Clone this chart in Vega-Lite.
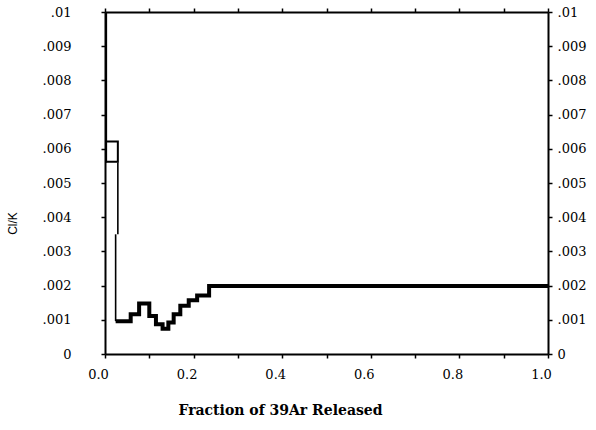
{
  "$schema": "https://vega.github.io/schema/vega-lite/v6.json",
  "autosize": {"type": "none"},
  "padding": {"left": 105, "top": 12, "right": 48, "bottom": 76},
  "width": 443,
  "height": 342,
  "background": "white",
  "config": {
    "font": "DejaVu Serif",
    "view": {"stroke": null},
    "axis": {
      "domainColor": "black",
      "domainWidth": 2,
      "tickColor": "black",
      "tickWidth": 1.5,
      "tickSize": 4,
      "grid": false,
      "labelColor": "black",
      "labelFont": "DejaVu Serif",
      "labelFontSize": 13,
      "titleColor": "black"
    }
  },
  "datasets": {
    "box": [{"start": 0, "end": 0.029, "lo": 0.00562, "hi": 0.00621}],
    "drops": [
      {"frac": 0.003, "from": 0.0056, "to": 0.0100},
      {"frac": 0.029, "from": 0.0035, "to": 0.0056},
      {"frac": 0.024, "from": 0.00096, "to": 0.0035}
    ],
    "steps": [
      {"frac": 0.024, "clk": 0.00096},
      {"frac": 0.058, "clk": 0.00116},
      {"frac": 0.077, "clk": 0.00148},
      {"frac": 0.100, "clk": 0.00111},
      {"frac": 0.115, "clk": 0.00087},
      {"frac": 0.130, "clk": 0.00074},
      {"frac": 0.143, "clk": 0.00092},
      {"frac": 0.155, "clk": 0.00116},
      {"frac": 0.170, "clk": 0.00141},
      {"frac": 0.189, "clk": 0.00157},
      {"frac": 0.208, "clk": 0.00171},
      {"frac": 0.235, "clk": 0.00199},
      {"frac": 1.0, "clk": 0.00199}
    ]
  },
  "layer": [
    {
      "data": {"name": "box"},
      "mark": {"type": "rect", "fill": "white", "stroke": "black", "strokeWidth": 2, "clip": true},
      "encoding": {
        "x": {"field": "start", "type": "quantitative",
          "scale": {"domain": [0, 1], "nice": false, "zero": false},
          "axis": {"orient": "top", "values": [0, 0.1, 0.2, 0.3, 0.4, 0.5, 0.6, 0.7, 0.8, 0.9, 1.0], "labels": false, "title": null}},
        "x2": {"field": "end"},
        "y": {"field": "lo", "type": "quantitative",
          "scale": {"domain": [0, 0.01], "nice": false},
          "axis": {"orient": "right", "values": [0, 0.001, 0.002, 0.003, 0.004, 0.005, 0.006, 0.007, 0.008, 0.009, 0.01],
            "labelExpr": "replace(format(datum.value, '.3~f'), '0.', '.')",
            "labelFlush": false,
            "labelPadding": 5, "title": null}},
        "y2": {"field": "hi"}
      }
    },
    {
      "data": {"name": "drops"},
      "mark": {"type": "rule", "color": "black", "strokeWidth": 1.6, "clip": true},
      "encoding": {
        "x": {"field": "frac", "type": "quantitative", "scale": {"domain": [0, 1], "nice": false}, "axis": null},
        "y": {"field": "from", "type": "quantitative", "scale": {"domain": [0, 0.01], "nice": false}, "axis": null},
        "y2": {"field": "to"}
      }
    },
    {
      "data": {"name": "steps"},
      "mark": {"type": "line", "interpolate": "step-after", "color": "black", "strokeWidth": 4, "clip": true},
      "encoding": {
        "x": {"field": "frac", "type": "quantitative",
          "scale": {"domain": [0, 1], "nice": false},
          "axis": {"orient": "bottom", "values": [0, 0.1, 0.2, 0.3, 0.4, 0.5, 0.6, 0.7, 0.8, 0.9, 1.0],
            "labelExpr": "round(datum.value * 10) % 2 == 0 ? format(datum.value, '.1f') : ''",
            "labelFlush": false,
            "labelPadding": 10, "labelOffset": -7,
            "title": "Fraction of 39Ar Released",
            "titleFont": "DejaVu Serif", "titleFontSize": 14, "titleFontWeight": "bold",
            "titleX": 175, "titleY": 56, "titleBaseline": "middle", "titleAlign": "center"}},
        "y": {"field": "clk", "type": "quantitative",
          "scale": {"domain": [0, 0.01], "nice": false},
          "axis": {"orient": "left", "values": [0, 0.001, 0.002, 0.003, 0.004, 0.005, 0.006, 0.007, 0.008, 0.009, 0.01],
            "labelExpr": "replace(format(datum.value, '.3~f'), '0.', '.')",
            "labelFlush": false,
            "labelPadding": 30,
            "title": "Cl/K",
            "titleFont": "Liberation Sans", "titleFontSize": 12, "titleFontWeight": "normal",
            "titleX": -93, "titleY": 211, "titleAngle": -90, "titleBaseline": "middle", "titleAlign": "center"}}
      }
    }
  ],
  "resolve": {"axis": {"x": "independent", "y": "independent"}}
}
